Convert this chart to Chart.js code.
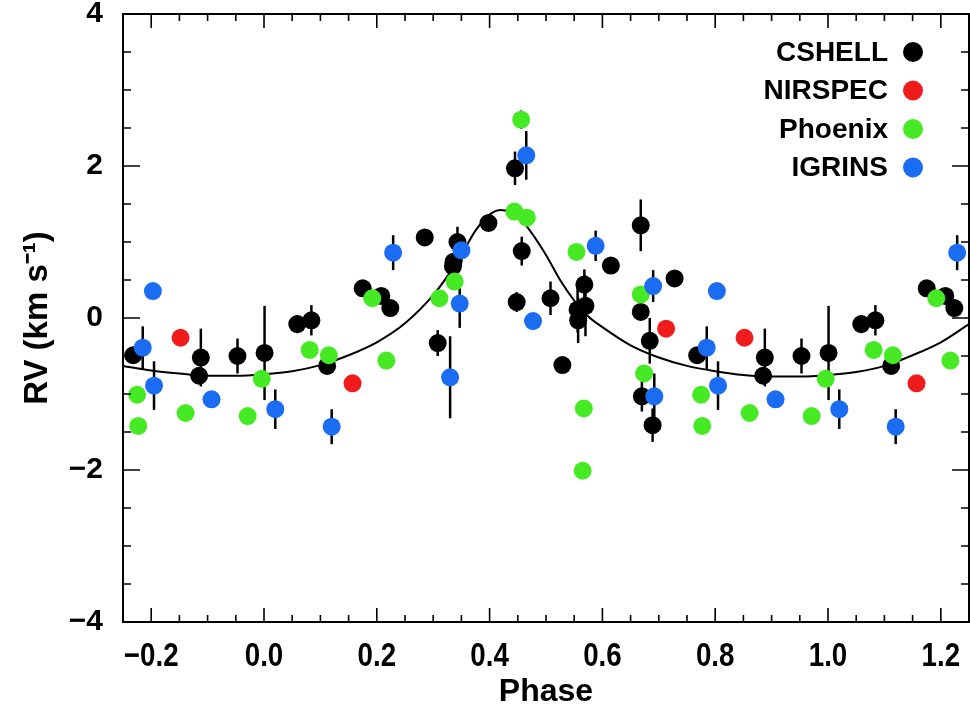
<!DOCTYPE html>
<html><head><meta charset="utf-8">
<script src="https://cdn.jsdelivr.net/npm/chart.js@4.4.1/dist/chart.umd.min.js"></script>
<style>html,body{margin:0;padding:0;background:#fff}#wrap{width:970px;height:708px}</style>
</head><body><div id="wrap"><canvas id="c" width="970" height="708"></canvas></div>
<script>
// ---- data (orbital phase in [0,1), RV in km/s, 1-sigma error) ----
const seriesNames = ['CSHELL', 'NIRSPEC', 'Phoenix', 'IGRINS'];

const cshellPhase = [0.001, 0.059, 0.084, 0.112, 0.175, 0.208, 0.224, 0.285, 0.308, 0.335, 0.336, 0.343, 0.398, 0.445, 0.448, 0.457, 0.508, 0.529, 0.556, 0.557, 0.570, 0.568, 0.615, 0.668, 0.668, 0.684, 0.670, 0.689, 0.728, 0.768, 0.888, 0.885, 0.953];
const cshellRV    = [-0.46, -0.08, -0.03, -0.63, 0.39, 0.29, 0.13, 1.06, -0.33, 0.68, 0.74, 1.00, 1.25, 1.97, 0.21, 0.88, 0.26, -0.62, 0.11, -0.03, 0.16, 0.44, 0.69, 1.22, 0.08, -0.30, -1.03, -1.41, 0.52, -0.49, -0.52, -0.76, -0.50];
const cshellErr   = [0.62, 0.12, 0.20, 0.08, 0.10, 0.08, 0.06, 0.10, 0.17, 0.10, 0.10, 0.20, 0.06, 0.22, 0.13, 0.19, 0.22, 0.08, 0.30, 0.30, 0.40, 0.20, 0.07, 0.34, 0.10, 0.30, 0.20, 0.22, 0.07, 0.08, 0.38, 0.10, 0.23];

const nirspecPhase = [0.157, 0.713, 0.852];
const nirspecRV    = [-0.86, -0.14, -0.26];
const nirspecErr   = [0.05, 0.05, 0.05];

const phoenixPhase = [0.081, 0.115, 0.192, 0.217, 0.311, 0.338, 0.444, 0.456, 0.466, 0.554, 0.567, 0.565, 0.668, 0.674, 0.775, 0.777, 0.861, 0.971, 0.996];
const phoenixRV    = [-0.42, -0.49, 0.26, -0.56, 0.26, 0.48, 1.40, 2.61, 1.32, 0.87, -1.19, -2.01, 0.31, -0.73, -1.01, -1.42, -1.25, -1.29, -0.80];
const phoenixErr   = [0.05, 0.05, 0.05, 0.05, 0.05, 0.05, 0.05, 0.12, 0.05, 0.05, 0.10, 0.10, 0.05, 0.05, 0.05, 0.05, 0.05, 0.05, 0.05];

const igrinsPhase = [0.020, 0.120, 0.229, 0.330, 0.347, 0.350, 0.465, 0.477, 0.588, 0.690, 0.692, 0.785, 0.803, 0.805, 0.907];
const igrinsRV    = [-1.20, -1.43, 0.86, -0.78, 0.19, 0.89, 2.14, -0.04, 0.95, 0.42, -1.03, -0.39, 0.355, -0.89, -1.07];
const igrinsErr   = [0.26, 0.23, 0.23, 0.54, 0.32, 0.15, 0.32, 0.08, 0.20, 0.21, 0.30, 0.28, 0.07, 0.32, 0.08];

// model curve
const modelPhase = [-0.25, -0.20, -0.15, -0.10, -0.05, 0.00, 0.05, 0.10, 0.15, 0.20, 0.25, 0.30, 0.33, 0.35, 0.375, 0.40, 0.42, 0.44, 0.46, 0.48, 0.50, 0.525, 0.55, 0.575, 0.60, 0.65, 0.70, 0.75, 0.80, 0.85, 0.90, 0.95, 1.00, 1.05, 1.10, 1.15, 1.20, 1.25];
const modelRV    = [-0.63, -0.69, -0.73, -0.76, -0.76, -0.74, -0.70, -0.62, -0.49, -0.32, -0.07, 0.30, 0.60, 0.83, 1.15, 1.36, 1.42, 1.38, 1.26, 1.06, 0.83, 0.50, 0.23, 0.02, -0.12, -0.36, -0.52, -0.63, -0.70, -0.75, -0.77, -0.77, -0.75, -0.71, -0.63, -0.49, -0.32, -0.08];

const xTickValues = [-0.2, 0.0, 0.2, 0.4, 0.6, 0.8, 1.0, 1.2];
const yTickValues = [-4, -2, 0, 2, 4];

// ---- build plotted points: each phase shown again at phase±1 inside the window ----
const X_MIN = -0.25, X_MAX = 1.25;
function fold(ph, rv, err) {
  const pts = [];
  ph.forEach((p, i) => {
    [-1, 0, 1].forEach(k => {
      const x = p + k;
      if (x >= X_MIN && x <= X_MAX) pts.push({ x: x, y: rv[i], e: err[i] });
    });
  });
  return pts;
}
const colors = ['#000000', '#f01c1c', '#46ea24', '#1a6cf2'];
const seriesData = [
  fold(cshellPhase, cshellRV, cshellErr),
  fold(nirspecPhase, nirspecRV, nirspecErr),
  fold(phoenixPhase, phoenixRV, phoenixErr),
  fold(igrinsPhase, igrinsRV, igrinsErr)
];

const minus = s => s.replace('-', '\u2212');

const errorBarPlugin = {
  id: 'errorBars',
  beforeDatasetsDraw(chart) {
    const ctx = chart.ctx, ys = chart.scales.y, xs = chart.scales.x, a = chart.chartArea;
    ctx.save();
    ctx.beginPath(); ctx.rect(a.left, a.top, a.right - a.left, a.bottom - a.top); ctx.clip();
    ctx.strokeStyle = '#000'; ctx.lineWidth = 2.5;
    chart.data.datasets.forEach(ds => {
      if (!ds.errorBars) return;
      ds.data.forEach(p => {
        const px = xs.getPixelForValue(p.x);
        ctx.beginPath();
        ctx.moveTo(px, ys.getPixelForValue(p.y - p.e));
        ctx.lineTo(px, ys.getPixelForValue(p.y + p.e));
        ctx.stroke();
      });
    });
    ctx.restore();
  }
};

const framePlugin = {
  id: 'frame',
  afterDatasetsDraw(chart) {
    const ctx = chart.ctx, a = chart.chartArea, xs = chart.scales.x, ys = chart.scales.y;
    ctx.save();
    ctx.strokeStyle = '#000'; ctx.lineWidth = 2;
    ctx.strokeRect(a.left, a.top, a.right - a.left, a.bottom - a.top);
    ctx.lineWidth = 1.6;
    for (let i = 0; i <= 30; i++) {
      const v = -0.25 + i * 0.05;
      const px = xs.getPixelForValue(v);
      const major = Math.abs(Math.round(v * 5) - v * 5) < 1e-6;
      const len = major ? 14 : 7;
      ctx.beginPath();
      ctx.moveTo(px, a.bottom); ctx.lineTo(px, a.bottom - len);
      ctx.moveTo(px, a.top); ctx.lineTo(px, a.top + len);
      ctx.stroke();
    }
    for (let i = 0; i <= 16; i++) {
      const v = -4 + i * 0.5;
      const py = ys.getPixelForValue(v);
      const major = (i % 4) === 0;
      const len = major ? 17 : 8;
      ctx.beginPath();
      ctx.moveTo(a.left, py); ctx.lineTo(a.left + len, py);
      ctx.moveTo(a.right, py); ctx.lineTo(a.right - len, py);
      ctx.stroke();
    }
    // x tick labels: condensed bold face as in the original
    ctx.fillStyle = '#000';
    ctx.font = 'bold 33px "Liberation Sans", Arial, sans-serif';
    ctx.textAlign = 'center'; ctx.textBaseline = 'alphabetic';
    xs.ticks.forEach(t => {
      const px = xs.getPixelForValue(t.value);
      ctx.save();
      ctx.translate(px, a.bottom + 44);
      ctx.scale(0.84, 1);
      ctx.fillText(minus(Number(t.value).toFixed(1)), 0, 0);
      ctx.restore();
    });
    ctx.restore();
  }
};

const legendPlugin = {
  id: 'sideLegend',
  afterDraw(chart) {
    const ctx = chart.ctx;
    ctx.save();
    ctx.font = 'bold 28px "Liberation Sans", Arial, sans-serif';
    ctx.textAlign = 'right'; ctx.textBaseline = 'middle';
    seriesNames.forEach((name, i) => {
      const y = 52 + i * 38.5;
      ctx.fillStyle = '#000';
      ctx.fillText(name, 888, y + 1);
      ctx.beginPath();
      ctx.arc(913, y, 10, 0, Math.PI * 2);
      ctx.fillStyle = colors[i];
      ctx.fill();
    });
    ctx.restore();
  }
};

const datasets = seriesNames.map((name, i) => ({
  label: name,
  data: seriesData[i],
  errorBars: true,
  showLine: false,
  pointRadius: 9,
  pointHoverRadius: 9,
  pointBorderWidth: 0,
  pointBackgroundColor: colors[i],
  pointBorderColor: colors[i],
  order: 4 - i
}));
datasets.push({
  label: 'model',
  data: modelPhase.map((p, i) => ({ x: p, y: modelRV[i] })),
  showLine: true,
  borderColor: '#000',
  borderWidth: 2,
  pointRadius: 0,
  cubicInterpolationMode: 'monotone',
  order: 10
});

new Chart(document.getElementById('c'), {
  type: 'scatter',
  data: { datasets },
  options: {
    responsive: false,
    animation: false,
    devicePixelRatio: 1,
    layout: { autoPadding: false, padding: { left: 0, right: 1, top: 14, bottom: 0 } },
    plugins: { legend: { display: false }, tooltip: { enabled: false } },
    scales: {
      x: {
        type: 'linear', min: X_MIN, max: X_MAX,
        grid: { display: false }, border: { display: false },
        afterBuildTicks: s => { s.ticks = xTickValues.map(v => ({ value: v })); },
        afterFit: s => { s.height = 86; s.paddingLeft = 0; s.paddingRight = 0; },
        ticks: { display: false },
        title: { display: true, text: 'Phase', color: '#000', padding: { top: 0, bottom: 0 },
          font: { family: '"Liberation Sans", Arial, sans-serif', size: 32, weight: 'bold', lineHeight: 1.0 } }
      },
      y: {
        type: 'linear', min: -4, max: 4,
        grid: { display: false }, border: { display: false },
        afterBuildTicks: s => { s.ticks = yTickValues.map(v => ({ value: v })); },
        afterFit: s => { s.width = 123; s.paddingTop = 0; s.paddingBottom = 0; },
        ticks: {
          color: '#000', padding: 12,
          font: { family: '"Liberation Sans", Arial, sans-serif', size: 30, weight: 'bold' },
          callback: v => minus(String(v))
        },
        title: { display: true, text: 'RV (km s\u207B\u00B9)', color: '#000', padding: { top: 18, bottom: 0 },
          font: { family: '"Liberation Sans", Arial, sans-serif', size: 33, weight: 'bold' } }
      }
    }
  },
  plugins: [errorBarPlugin, framePlugin, legendPlugin]
});
</script></body></html>
